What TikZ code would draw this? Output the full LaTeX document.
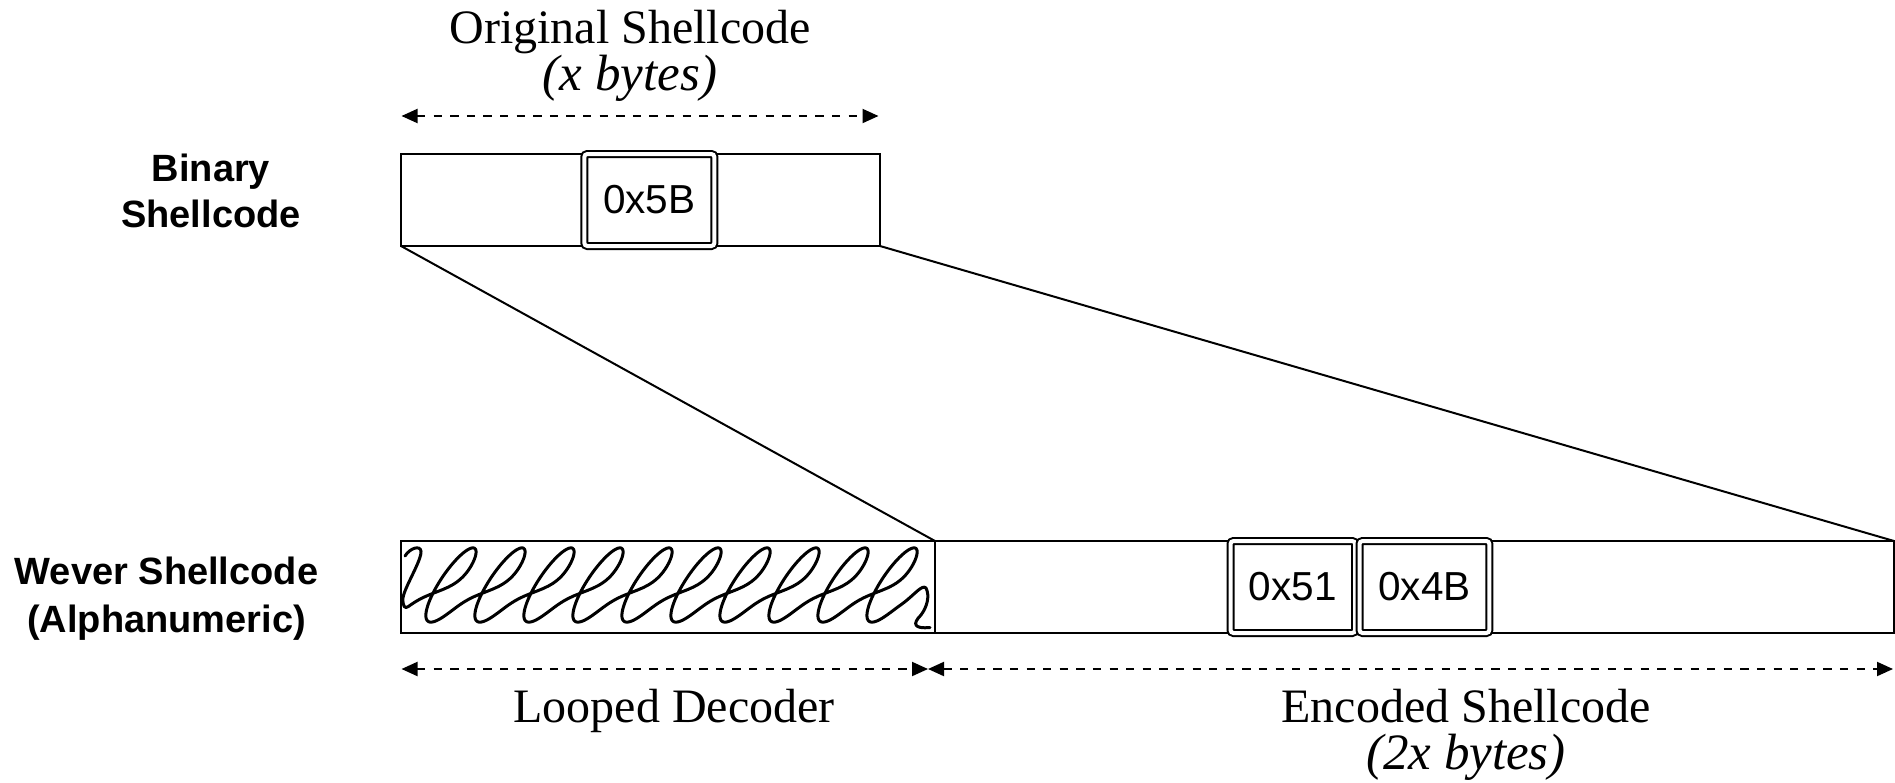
\documentclass[tikz,border=0pt]{standalone}
\usepackage{fontspec}
\setmainfont{Liberation Serif}
\newfontfamily\labelfont{Liberation Sans}
\usetikzlibrary{arrows.meta}
\newcommand\cellfont{\labelfont\fontsize{40.5pt}{46pt}\selectfont}
\newcommand\capfont{\fontsize{48pt}{47pt}\selectfont}
\newcommand\sizefont{\fontsize{51pt}{47pt}\selectfont\itshape}
\begin{document}
\begin{tikzpicture}[x=1pt, y=-1pt,
  boxframe/.style={draw, line width=2pt, minimum height=92pt, inner sep=0pt, outer sep=0pt, anchor=north west},
  bytecell/.style={draw, line width=2pt, double=white, double distance=4pt, fill=white,
    rounded corners=3pt, minimum height=92pt, inner sep=0pt, outer sep=0pt, font=\cellfont},
  sidelabel/.style={align=center, anchor=north, inner sep=0pt},
  caption/.style={font=\capfont, align=center, anchor=north, inner sep=0pt},
  span/.style={line width=2pt, dash pattern=on 8.3pt off 8.3pt,
    {Triangle[length=16pt,width=14pt]}-{Triangle[length=16pt,width=14pt]}},
  link/.style={line width=2pt},
  scribble/.style={line width=3pt, line cap=round, line join=round}]
\useasboundingbox (0,0) rectangle (1895,782);

% ---- binary shellcode row ----
\node[boxframe, minimum width=479pt] (bin) at (401,154) {};
\node[bytecell, minimum width=130pt] (b5b) at (649.35,200) {0x5B};
\node[sidelabel, font=\labelfont\bfseries\fontsize{38pt}{46.5pt}\selectfont] (binlbl) at (211,153.5) {Binary\\Shellcode};
\node[caption] (origlbl) at (630,10.2) {Original Shellcode\\{\sizefont(x bytes)}};
\coordinate (origL) at (401.5,116);
\coordinate (origR) at (878.5,116);
\draw[span] (origL) -- (origR);

% ---- alphanumeric shellcode row ----
\node[boxframe, minimum width=534pt] (dec) at (401,541) {};
\node[boxframe, minimum width=959pt] (enc) at (935,541) {};
\node[bytecell, minimum width=124.7pt] (b51) at (1292.85,587) {0x51};
\node[bytecell, minimum width=129.8pt] (b4b) at (1424.4,587) {0x4B};
\node[sidelabel, font=\labelfont\bfseries\fontsize{38pt}{48pt}\selectfont] (wevlbl) at (166.5,557) {Wever Shellcode\\(Alphanumeric)};

% expansion lines
\draw[link] (bin.south west) -- (dec.north east);
\draw[link] (bin.south east) -- (enc.north east);

% looped decoder scribble: narrow slanted loops that step forward at mid-height
\draw[scribble] (405,556) .. controls (410,548) and (420,545) .. (421,551)
  .. controls (422,560) and (404,588) .. (403,598)
  .. controls (402.5,606) and (404.6,609.5) .. (408.6,606.4)
  -- plot[domain=-2:60.9, samples=900, variable=\t]
     ({476.1+7.8*(\t-4.712389+2*rad(atan(0.8*sin((\t-4.712389) r)/(1-0.8*cos((\t-4.712389) r)))))+25*cos(\t r)-9.9*sin(\t r)},
      {585-36.5*cos(\t r)-6.8*sin(\t r)})
  .. controls (914.9,594.6) and (922,584) .. (926,588)
  .. controls (930,596) and (927,607) .. (921,615)
  .. controls (912,624) and (914,629) .. (930,627.5);

% size annotations
\coordinate (decL) at (401.5,669);
\coordinate (split) at (928,669);
\coordinate (encR) at (1893,669);
\draw[span] (decL) -- (split);
\draw[span] (split) -- (encR);
\node[caption] (looplbl) at (674,689.2) {Looped Decoder};
\node[caption] (enclbl) at (1466,689.2) {Encoded Shellcode\\{\sizefont(2x bytes)}};
\end{tikzpicture}
\end{document}
